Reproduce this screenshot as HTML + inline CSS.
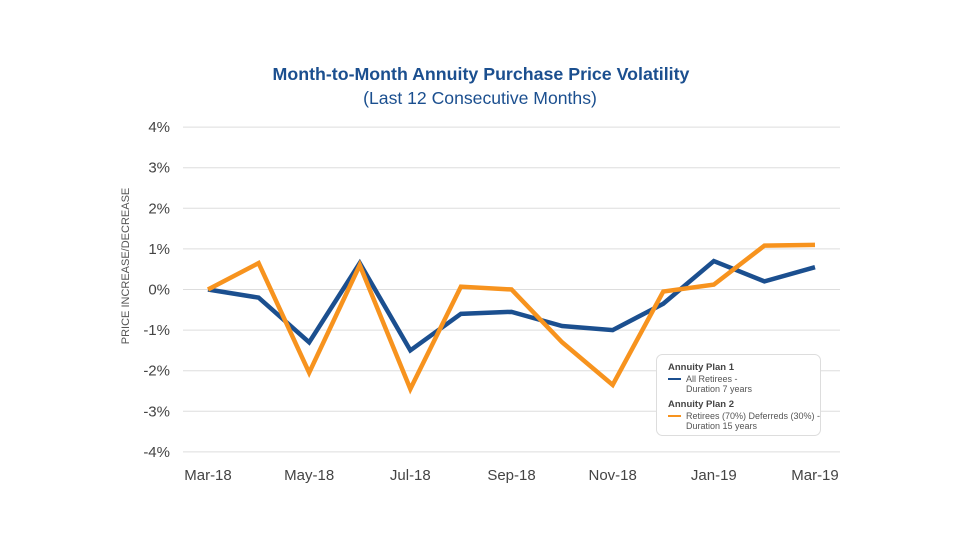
<!DOCTYPE html>
<html><head><meta charset="utf-8"><style>
body{margin:0;background:#fff;width:960px;height:540px;overflow:hidden;font-family:"Liberation Sans",sans-serif}
</style></head><body>
<svg id="c" width="960" height="540">
<text x="481" y="80" text-anchor="middle" font-size="17.8" font-weight="bold" fill="#1b4f8f">Month-to-Month Annuity Purchase Price Volatility</text>
<text x="480" y="104" text-anchor="middle" font-size="17.6" fill="#1b4f8f">(Last 12 Consecutive Months)</text>
<text transform="translate(129,266) rotate(-90)" text-anchor="middle" font-size="11" fill="#555">PRICE INCREASE/DECREASE</text>
<g id="grid"></g><g id="xt"></g><g id="lines"></g>
<g>
<rect x="656.5" y="354.5" width="164" height="81" rx="6" fill="#fff" stroke="#ddd"/>
<text x="668" y="370" font-size="9.5" font-weight="bold" fill="#444">Annuity Plan 1</text>
<line x1="668" y1="379" x2="681" y2="379" stroke="#1b4f8f" stroke-width="2"/>
<text x="686" y="382" font-size="9" fill="#555">All Retirees -</text>
<text x="686" y="392" font-size="9" fill="#555">Duration 7 years</text>
<text x="668" y="407" font-size="9.5" font-weight="bold" fill="#444">Annuity Plan 2</text>
<line x1="668" y1="416" x2="681" y2="416" stroke="#f7931e" stroke-width="2"/>
<text x="686" y="419" font-size="9" fill="#555">Retirees (70%) Deferreds (30%) -</text>
<text x="686" y="429" font-size="9" fill="#555">Duration 15 years</text>
</g>
</svg>
<script>
const months=["Mar-18","Apr-18","May-18","Jun-18","Jul-18","Aug-18","Sep-18","Oct-18","Nov-18","Dec-18","Jan-19","Feb-19","Mar-19"];
const plan1=[0,-0.2,-1.3,0.65,-1.5,-0.6,-0.55,-0.9,-1.0,-0.35,0.7,0.2,0.55];
const plan2=[0,0.65,-2.05,0.6,-2.45,0.07,0,-1.3,-2.35,-0.05,0.12,1.08,1.1];
const yTicks=[4,3,2,1,0,-1,-2,-3,-4];
const NS="http://www.w3.org/2000/svg";
const x=i=>208+i*(815-208)/(months.length-1);
const y=v=>289.5-v*40.6;
function mk(p,t,a){const e=document.createElementNS(NS,t);for(const k in a)e.setAttribute(k,a[k]);document.getElementById(p).appendChild(e);return e;}
yTicks.forEach(v=>{
 const l=mk('grid','line',{x1:183,x2:840,y1:y(v),y2:y(v),stroke:'#ddd'});
 
 
 const t=mk('grid','text',{x:170,y:y(v)+5,'text-anchor':'end','font-size':15,fill:'#444'});
 t.textContent=v+'%';
 
 
});
months.forEach((m,i)=>{if(i%2)return;
 const t=mk('xt','text',{x:x(i),y:480,'text-anchor':'middle','font-size':15,fill:'#444'});
 t.textContent=m;
 
 
});
[[plan1,'#1b4f8f','plan1-line'],[plan2,'#f7931e','plan2-line']].forEach(([d,c,n])=>{
 const p=mk('lines','polyline',{points:d.map((v,i)=>x(i)+','+y(v)).join(' '),fill:'none',stroke:c,'stroke-width':4.5,'stroke-linejoin':'miter','stroke-miterlimit':3});
 
 
});
</script>
</body></html>
